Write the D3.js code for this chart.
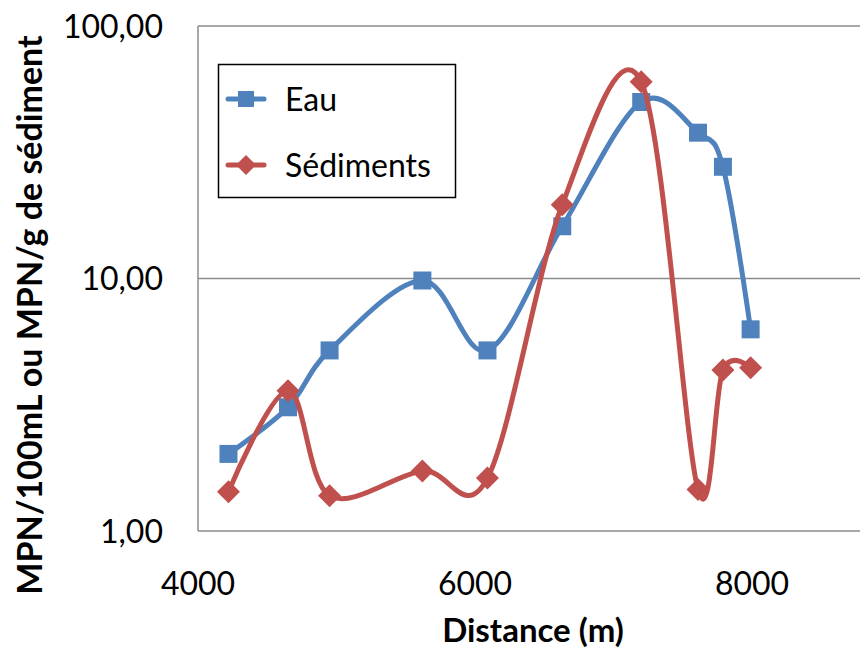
<!DOCTYPE html>
<html lang="fr">
<head>
<meta charset="UTF-8">
<title>MPN vs distance</title>
<script src="https://d3js.org/d3.v7.min.js"></script>
<style>
  body { margin: 0; background: #fff; }
  text { font-family: Lato, "Open Sans", sans-serif; fill: #000; }
</style>
</head>
<body>
<div id="chart"></div>
<script>
// data
var distances = [4220, 4650, 4950, 5620, 6090, 6630, 7200, 7610, 7790, 7990];
var eau       = [2.02, 3.09, 5.19, 9.82, 5.19, 16.1, 50.0, 37.8, 27.7, 6.29];
var sediments = [1.43, 3.59, 1.38, 1.73, 1.62, 19.6, 60.2, 1.46, 4.34, 4.43];
var seriesNames = ["Eau", "Sédiments"];
var xTicks = [4000, 6000, 8000];
var yTicks = [1, 10, 100];

var W = 860, H = 649;
var plotLeft = 198, plotTop = 26, plotBottom = 531;

var svg = d3.select("#chart").append("svg")
    .attr("width", W)
    .attr("height", H);

// x axis runs past the right edge of the picture (to 10000)
var x = d3.scaleLinear().domain([4000, 10000]).range([plotLeft, 1029]);
var y = d3.scaleLog().domain([1, 100]).range([plotBottom, plotTop]);

var grey = "#8c8c8c";

// gridlines
svg.selectAll(".grid")
  .data(yTicks.slice(1))
  .enter().append("line")
    .attr("x1", plotLeft).attr("x2", W)
    .attr("y1", function(d) { return y(d); })
    .attr("y2", function(d) { return y(d); })
    .attr("stroke", grey).attr("stroke-width", 1.5);

// axis lines
svg.append("line")
  .attr("x1", plotLeft).attr("x2", plotLeft).attr("y1", plotTop).attr("y2", plotBottom)
  .attr("stroke", grey).attr("stroke-width", 1.5);
svg.append("line")
  .attr("x1", plotLeft).attr("x2", W).attr("y1", plotBottom).attr("y2", plotBottom)
  .attr("stroke", grey).attr("stroke-width", 1.5);

// y tick labels
var fmt = function(d) { return d.toFixed(2).replace(".", ","); };
svg.selectAll(".ylab")
  .data(yTicks)
  .enter().append("text")
    .attr("x", 163)
    .attr("y", function(d) { return y(d); })
    .attr("dy", "0.36em")
    .attr("text-anchor", "end")
    .style("font-size", "32px")
    .text(fmt);

// x tick labels
svg.selectAll(".xlab")
  .data(xTicks)
  .enter().append("text")
    .attr("x", function(d) { return x(d); })
    .attr("y", 583)
    .attr("dy", "0.36em")
    .attr("text-anchor", "middle")
    .style("font-size", "32px")
    .text(function(d) { return d; });

// axis titles
svg.append("text")
  .attr("transform", "translate(30,315) rotate(-90)")
  .attr("dy", "0.36em")
  .attr("text-anchor", "middle")
  .style("font-size", "34px")
  .style("font-weight", "bold")
  .text("MPN/100mL ou MPN/g de sédiment");

svg.append("text")
  .attr("x", 533).attr("y", 630)
  .attr("dy", "0.36em")
  .attr("text-anchor", "middle")
  .style("font-size", "33px")
  .style("font-weight", "bold")
  .text("Distance (m)");

var colors = ["#4f81bd", "#c0504d"];
var allSeries = [eau, sediments];

var line = d3.line()
  .x(function(d) { return x(d[0]); })
  .y(function(d) { return y(d[1]); })
  .curve(d3.curveCardinal.tension(0));

var square = d3.symbol().type(d3.symbolSquare).size(18 * 18);
var diamond = "M0,-11.5L11.5,0L0,11.5L-11.5,0Z";

allSeries.forEach(function(vals, i) {
  var pts = distances.map(function(d, j) { return [d, vals[j]]; });
  svg.append("path")
    .datum(pts)
    .attr("d", line)
    .attr("fill", "none")
    .attr("stroke", colors[i])
    .attr("stroke-width", 5)
    .attr("stroke-linejoin", "round")
    .attr("stroke-linecap", "round");
  svg.selectAll(".m" + i)
    .data(pts)
    .enter().append("path")
      .attr("transform", function(d) { return "translate(" + x(d[0]) + "," + y(d[1]) + ")"; })
      .attr("d", i === 0 ? square() : diamond)
      .attr("fill", colors[i]);
});

// legend
var lg = svg.append("g");
lg.append("rect")
  .attr("x", 218.5).attr("y", 64.5)
  .attr("width", 237).attr("height", 133)
  .attr("fill", "#fff").attr("stroke", "#000").attr("stroke-width", 1.5);

seriesNames.forEach(function(name, i) {
  var cy = 99 + i * 66;
  lg.append("line")
    .attr("x1", 228).attr("x2", 264).attr("y1", cy).attr("y2", cy)
    .attr("stroke", colors[i]).attr("stroke-width", 5)
    .attr("stroke-linecap", "round");
  lg.append("path")
    .attr("transform", "translate(246," + cy + ")")
    .attr("d", i === 0 ? d3.symbol().type(d3.symbolSquare).size(16 * 16)() : "M0,-10L10,0L0,10L-10,0Z")
    .attr("fill", colors[i]);
  lg.append("text")
    .attr("x", 285).attr("y", cy)
    .attr("dy", "0.36em")
    .style("font-size", "32px")
    .text(name);
});
</script>
</body>
</html>
